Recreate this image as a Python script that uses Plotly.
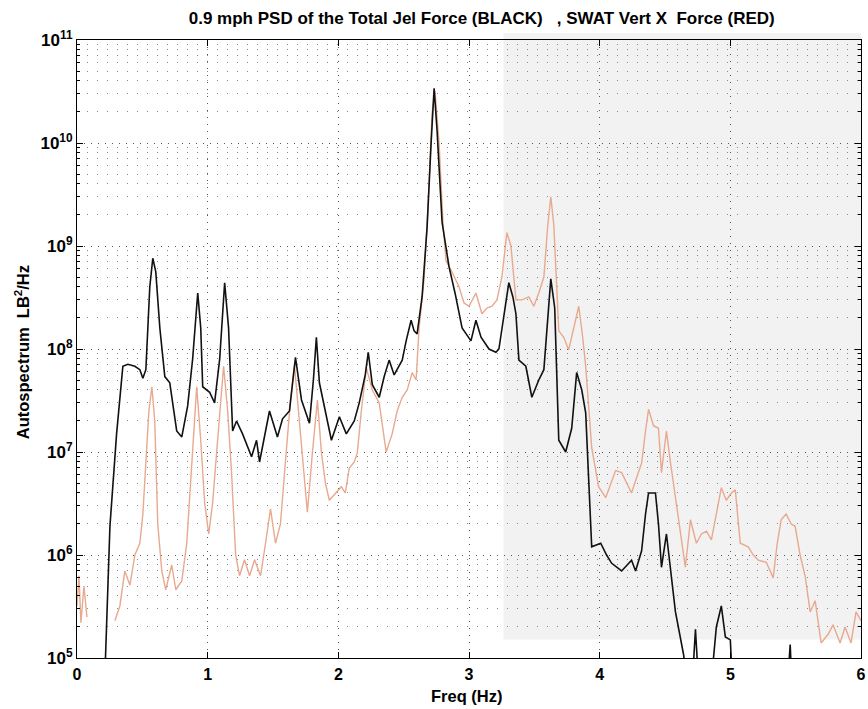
import plotly.graph_objects as go

# ---- data ----
black_freq = [0.21, 0.252, 0.303, 0.351, 0.389, 0.443, 0.481, 0.504, 0.527, 0.557, 0.580, 0.603, 0.634,
              0.672, 0.710, 0.763, 0.802, 0.847, 0.885, 0.924, 0.947, 0.962, 1.015, 1.053, 1.092, 1.130,
              1.160, 1.191, 1.221, 1.267, 1.336, 1.374, 1.397, 1.473, 1.534, 1.573, 1.626, 1.672, 1.718,
              1.756, 1.779, 1.809, 1.832, 1.855, 1.901, 1.947, 2.008, 2.061, 2.122, 2.160, 2.206, 2.229,
              2.260, 2.313, 2.351, 2.389, 2.427, 2.489, 2.519, 2.557, 2.580, 2.603, 2.641, 2.679, 2.710,
              2.733, 2.756, 2.794, 2.847, 2.893, 2.947, 3.015, 3.053, 3.092, 3.153, 3.206, 3.229, 3.252,
              3.282, 3.305, 3.336, 3.359, 3.382, 3.435, 3.481, 3.534, 3.573, 3.603, 3.626, 3.656, 3.687,
              3.740, 3.786, 3.824, 3.863, 3.893, 3.939, 4.008, 4.053, 4.092, 4.168, 4.244, 4.275, 4.321,
              4.351, 4.374, 4.427, 4.450, 4.473, 4.511, 4.580, 4.641, 4.672, 4.710, 4.733, 4.756, 4.855,
              4.893, 4.931, 4.962, 5.000, 5.015, 5.440, 5.458, 5.470, 6.000]
black_psd = [5e4, 1.9e6, 1.5e7, 6.8e7, 7.1e7, 6.8e7, 6.3e7, 5.2e7, 6.3e7, 4e8, 7.6e8, 5.6e8, 1.6e8,
             5.4e7, 4.7e7, 1.6e7, 1.4e7, 2.8e7, 8e7, 3.5e8, 1.6e8, 4.3e7, 3.8e7, 3e7, 8e7, 4.4e8,
             1.6e8, 1.6e7, 2e7, 1.5e7, 9e6, 1.3e7, 8e6, 2.5e7, 1.4e7, 2.1e7, 2.5e7, 8.3e7, 3.2e7,
             2.3e7, 1.9e7, 5e7, 1.3e8, 4.7e7, 2.5e7, 1.3e7, 2.2e7, 1.5e7, 2e7, 3e7, 5.6e7, 9.3e7,
             4.5e7, 3.4e7, 5.4e7, 7.8e7, 5.6e7, 7.8e7, 1.2e8, 1.9e8, 1.5e8, 1.4e8, 3.2e8, 1.5e9, 1e10,
             3.4e10, 1.3e10, 1.7e9, 6.3e8, 3.5e8, 1.6e8, 1.2e8, 1.9e8, 1.3e8, 1e8, 9.3e7, 1e8, 1.6e8,
             2.8e8, 4.4e8, 3.2e8, 2.2e8, 7.8e7, 6.8e7, 3.4e7, 5e7, 6.3e7, 2e8, 4.8e8, 2.5e8, 1.3e7,
             1e7, 1.7e7, 5.9e7, 4e7, 2.4e7, 1.2e6, 1.3e6, 1e6, 8.3e5, 7e5, 8.9e5, 7e5, 1.1e6,
             2.5e6, 4e6, 4e6, 2e6, 7.6e5, 1.6e6, 2.8e5, 1.1e5, 6e4, 6e4, 1.9e5, 6e4, 6e4,
             2e5, 3.2e5, 1.6e5, 1.5e5, 6e4, 6e4, 1.35e5, 6e4, 6e4]

red_freq = [0.0, 0.015, 0.03, 0.053, 0.076, 0.15, 0.290, 0.328, 0.366, 0.405, 0.443, 0.481, 0.504, 0.527,
            0.550, 0.573, 0.595, 0.618, 0.649, 0.679, 0.725, 0.756, 0.802, 0.840, 0.878, 0.916, 0.947,
            0.977, 1.008, 1.038, 1.069, 1.099, 1.122, 1.153, 1.183, 1.214, 1.244, 1.282, 1.321, 1.359,
            1.405, 1.443, 1.481, 1.519, 1.557, 1.595, 1.634, 1.664, 1.702, 1.733, 1.763, 1.802, 1.840,
            1.870, 1.901, 1.931, 1.977, 2.023, 2.053, 2.084, 2.122, 2.145, 2.176, 2.214, 2.260, 2.313,
            2.366, 2.412, 2.450, 2.489, 2.527, 2.565, 2.595, 2.618, 2.656, 2.687, 2.718, 2.740, 2.771,
            2.802, 2.824, 2.870, 2.924, 2.962, 3.000, 3.053, 3.099, 3.137, 3.176, 3.214, 3.252, 3.290,
            3.321, 3.359, 3.405, 3.458, 3.496, 3.534, 3.573, 3.603, 3.626, 3.649, 3.687, 3.725, 3.763,
            3.802, 3.840, 3.870, 3.893, 3.939, 3.992, 4.046, 4.084, 4.122, 4.168, 4.206, 4.244, 4.282,
            4.321, 4.351, 4.374, 4.412, 4.450, 4.473, 4.511, 4.542, 4.580, 4.618, 4.656, 4.695, 4.740,
            4.779, 4.817, 4.855, 4.893, 4.931, 4.969, 5.008, 5.038, 5.076, 5.137, 5.176, 5.214, 5.275,
            5.305, 5.328, 5.359, 5.389, 5.427, 5.466, 5.496, 5.534, 5.573, 5.611, 5.649, 5.695, 5.748,
            5.786, 5.840, 5.878, 5.924, 5.962, 6.000]
red_psd = [3.2e5, 6.3e5, 2.2e5, 5e5, 2.5e5, None, 2.3e5, 3.2e5, 7e5, 5.1e5, 1e6, 1.3e6, 2.5e6, 8e6,
           2.5e7, 4.3e7, 2e7, 2e6, 7e5, 4.6e5, 8e5, 4.6e5, 5.6e5, 1.3e6, 8e6, 4.3e7, 1.3e7,
           3.2e6, 1.6e6, 3.2e6, 1e7, 3.2e7, 6.8e7, 2.5e7, 6.3e6, 1e6, 6.3e5, 9e5, 6.3e5, 9e5,
           6.3e5, 1.3e6, 2.8e6, 1.3e6, 2e6, 8e6, 3.2e7, 7e7, 2e7, 6.3e6, 2.6e6, 1e7, 3.2e7,
           1e7, 5e6, 3.4e6, 4e6, 4.6e6, 4e6, 7e6, 8e6, 9.8e6, 2.5e7, 6.6e7, 4e7, 3e7,
           1e7, 1.5e7, 2.5e7, 3.4e7, 4e7, 5.9e7, 5e7, 1.6e8, 4.7e8, 2.5e9, 2e10, 3.2e10, 1e10,
           1.6e9, 7.2e8, 5.6e8, 4e8, 2.8e8, 2.6e8, 3.5e8, 2.2e8, 2.5e8, 2.6e8, 3e8, 5e8, 1.35e9,
           1e9, 3e8, 3e8, 3.2e8, 2.6e8, 3.5e8, 5e8, 1.6e9, 3e9, 1.6e9, 1.5e8, 1.3e8, 9.8e7,
           1.6e8, 2.6e8, 1.3e8, 6.8e7, 1.1e7, 4.6e6, 3.6e6, 5e6, 6.6e6, 6.3e6, 5e6, 4e6, 5.6e6,
           7.8e6, 1.6e7, 2.6e7, 1.8e7, 1.7e7, 6.3e6, 1.6e7, 7.9e6, 3.6e6, 1.6e6, 7.6e5, 2.2e6, 1.3e6,
           1.6e6, 1.7e6, 1.4e6, 2.5e6, 4.5e6, 3.4e6, 4e6, 4.3e6, 1.3e6, 1.2e6, 1e6, 8.9e5, 8.5e5,
           7e5, 6e5, 1.3e6, 2.2e6, 2.5e6, 2e6, 1.9e6, 1e6, 6.2e5, 2.8e5, 3.6e5, 1.4e5, 1.7e5,
           2.1e5, 1.4e5, 2e5, 1.4e5, 2.8e5, 2.3e5]

x_ticks = [0, 1, 2, 3, 4, 5, 6]
x_tick_labels = ["0", "1", "2", "3", "4", "5", "6"]
y_decades = [1e5, 1e6, 1e7, 1e8, 1e9, 1e10, 1e11]
y_tick_labels = ["10<sup>5</sup>", "10<sup>6</sup>", "10<sup>7</sup>", "10<sup>8</sup>",
                 "10<sup>9</sup>", "10<sup>10</sup>", "10<sup>11</sup>"]
y_minor = [m * d for d in y_decades[:-1] for m in range(2, 10)]

title_text = "0.9 mph PSD of the Total Jel Force (BLACK)   , SWAT Vert X  Force (RED)"
x_title = "Freq (Hz)"
y_title = "Autospectrum  LB<sup>2</sup>/Hz"
font_family = "Liberation Sans, Arial, sans-serif"

fig = go.Figure()
fig.add_trace(go.Scatter(x=red_freq, y=red_psd, mode="lines", connectgaps=False,
                         line=dict(color="#e8a98e", width=1.4), showlegend=False))
fig.add_trace(go.Scatter(x=black_freq, y=black_psd, mode="lines",
                         line=dict(color="#111111", width=1.6), showlegend=False))

# scanned grey patch on right side
fig.add_shape(type="rect", xref="paper", yref="paper", x0=0.544, x1=1.0, y0=0.03, y1=1.011,
              fillcolor="#f2f2f2", line=dict(width=0), layer="below")

fig.add_annotation(text=x_title, xref="paper", yref="paper", x=0.498, y=-0.062,
                   xanchor="center", yanchor="middle", showarrow=False,
                   font=dict(size=16.5, weight="bold"))
fig.add_annotation(text=y_title, xref="paper", yref="paper", x=-0.07, y=0.495,
                   xanchor="center", yanchor="middle", showarrow=False, textangle=-90,
                   font=dict(size=16.5, weight="bold"))

fig.update_layout(
    width=868, height=709,
    margin=dict(l=77, r=2, t=40, b=51),
    paper_bgcolor="white", plot_bgcolor="rgba(0,0,0,0)",
    font=dict(family=font_family, color="black", size=14),
    title=dict(text=title_text, x=0.555, xanchor="center", y=0.974, yanchor="middle",
               font=dict(size=17, family=font_family, weight="bold")),
)
fig.update_xaxes(range=[0, 6], tickvals=x_ticks, ticktext=x_tick_labels, ticks="inside", ticklen=6,
                 tickcolor="black", ticklabeloverflow="allow", ticklabelstandoff=2,
                 showline=True, linecolor="black", linewidth=1, mirror="ticks",
                 showgrid=True, gridcolor="#555555", griddash="1px,6px", gridwidth=1,
                 zeroline=False, tickfont=dict(size=16, weight="bold"))
fig.update_yaxes(type="log", range=[5, 11], tickvals=y_decades, ticktext=y_tick_labels,
                 ticks="inside", ticklen=6, tickcolor="black", ticklabeloverflow="allow",
                 showline=True, linecolor="black", linewidth=1, mirror="ticks",
                 showgrid=True, gridcolor="#555555", griddash="1px,6px", gridwidth=1,
                 tickfont=dict(size=17, weight="bold"),
                 minor=dict(tickvals=y_minor, ticks="inside", ticklen=3, tickcolor="black",
                            showgrid=True, gridcolor="#888888", griddash="1px,9px", gridwidth=1))

fig.write_html("out.html")
